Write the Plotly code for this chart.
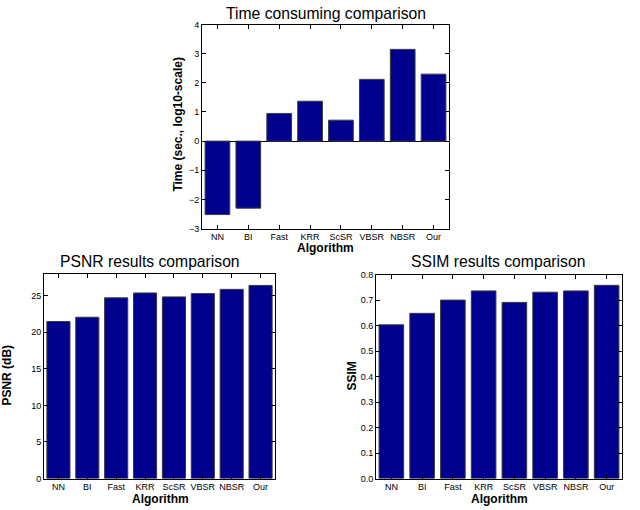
import plotly.graph_objects as go

# algorithms compared
algorithms = ["NN", "BI", "Fast", "KRR", "ScSR", "VBSR", "NBSR", "Our"]

# values
time_log10 = [-2.52, -2.30, 0.95, 1.37, 0.72, 2.12, 3.15, 2.30]
psnr_db = [21.46, 22.04, 24.69, 25.36, 24.82, 25.27, 25.85, 26.39]
ssim = [0.603, 0.648, 0.700, 0.736, 0.691, 0.731, 0.736, 0.758]

bar_color = "#00008F"
font_name = "Liberation Sans, Arial, sans-serif"

fig = go.Figure()

for data, xa, ya in [(time_log10, "x", "y"), (psnr_db, "x2", "y2"), (ssim, "x3", "y3")]:
    fig.add_trace(go.Bar(x=algorithms, y=data, xaxis=xa, yaxis=ya,
                         marker=dict(color=bar_color, line=dict(color="#3a3a3a", width=1)),
                         width=0.8, showlegend=False))

W, H = 640, 510


def xd(a, b):
    return [a / W, b / W]


def yd(top, bottom):
    return [1 - bottom / H, 1 - top / H]


common_x = dict(showline=True, linecolor="black", linewidth=1, mirror="ticks",
                ticks="inside", ticklen=4, tickcolor="black", showgrid=False,
                tickangle=0, ticklabelstandoff=0,
                tickfont=dict(size=9, color="black"), range=[-0.5, 7.5])
common_y = dict(showline=True, linecolor="black", linewidth=1, mirror="ticks",
                ticks="inside", ticklen=4, tickcolor="black", showgrid=False,
                tickfont=dict(size=9, color="black"))

fig.update_layout(
    width=W, height=H,
    margin=dict(l=0, r=0, t=0, b=0),
    paper_bgcolor="white", plot_bgcolor="white",
    font=dict(family=font_name, color="black"),
    xaxis=dict(domain=xd(202, 449), anchor="y", **common_x),
    yaxis=dict(domain=yd(20, 228), anchor="x", range=[-3, 4], dtick=1,
               zeroline=True, zerolinecolor="black", zerolinewidth=1, **common_y),
    xaxis2=dict(domain=xd(44, 275), anchor="y2", **common_x),
    yaxis2=dict(domain=yd(274, 483), anchor="x2", range=[0, 28], dtick=5,
                zeroline=False, **common_y),
    xaxis3=dict(domain=xd(376, 622), anchor="y3", **common_x),
    yaxis3=dict(domain=yd(275, 483), anchor="x3", range=[0, 0.8], dtick=0.1,
                tickformat=".1f", zeroline=False, **common_y),
)

ann = []


def title(text, x, y):
    ann.append(dict(text=text, x=x / W, y=1 - y / H, xref="paper", yref="paper",
                    showarrow=False, font=dict(size=15.7), xanchor="center", yanchor="middle"))


def label(text, x, y, angle=0):
    ann.append(dict(text="<b>" + text + "</b>", x=x / W, y=1 - y / H, xref="paper",
                    yref="paper", showarrow=False, font=dict(size=12), textangle=angle,
                    xanchor="center", yanchor="middle"))


title("Time consuming comparison", 326, 9)
title("PSNR results comparison", 150, 262)
title("SSIM results comparison", 498, 262)

label("Algorithm", 325, 248)
label("Algorithm", 160, 503.5)
label("Algorithm", 499, 503.5)

label("Time (sec., log10-scale)", 178, 122, -90)
label("PSNR (dB)", 7, 378, -90)
label("SSIM", 352, 379, -90)

fig.update_layout(annotations=ann)

# the page body has a default 8px margin; drop it so the figure fills the window
fig.write_html("out.html", config={"displayModeBar": False},
               post_script="document.body.style.margin='0';")
